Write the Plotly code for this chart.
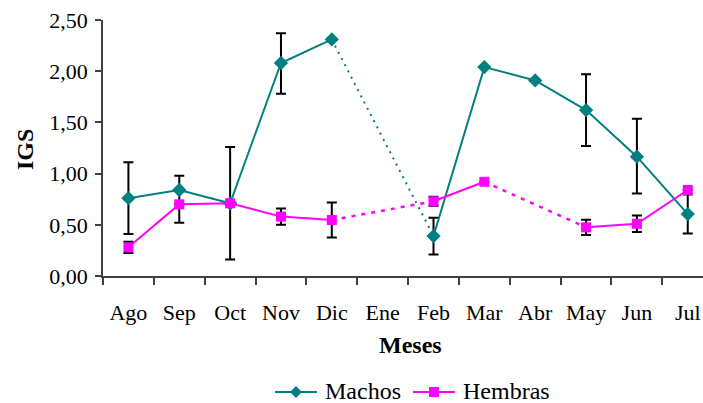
import plotly.graph_objects as go

meses = ["Ago", "Sep", "Oct", "Nov", "Dic", "Ene", "Feb", "Mar", "Abr", "May", "Jun", "Jul"]

machos = [0.76, 0.84, 0.71, 2.08, 2.31, None, 0.39, 2.04, 1.91, 1.62, 1.165, 0.605]
machos_err_up = [0.35, 0.14, 0.55, 0.29, 0, 0, 0.18, 0, 0, 0.35, 0.37, 0.19]
machos_err_down = [0.35, 0.32, 0.55, 0.30, 0, 0, 0.18, 0, 0, 0.35, 0.36, 0.19]

hembras = [0.28, 0.70, 0.71, 0.58, 0.547, None, 0.73, 0.92, None, 0.475, 0.51, 0.84]
hembras_err = [0.055, 0, 0, 0.08, 0.17, 0, 0.045, 0, 0, 0.075, 0.08, 0]

y_ticks = [0, 0.5, 1.0, 1.5, 2.0, 2.5]
series_names = ["Machos", "Hembras"]

TEAL = "#008080"
MAGENTA = "#FF00FF"
FONT = "Liberation Serif"

W, H = 703, 403
ML, MR, MT, MB = 103, 0, 20, 127
PW, PH = W - ML - MR, H - MT - MB


def px_x(p):
    return (p - ML) / PW


def px_y(p):
    return (H - MB - p) / PH


def gap_segments(values):
    segs = []
    prev = None
    gap = False
    for i, v in enumerate(values):
        if v is None:
            gap = True
            continue
        if gap and prev is not None:
            segs.append((prev, i))
        gap = False
        prev = i
    return segs


fig = go.Figure()

for vals, color, dash, width in [(machos, TEAL, "2px,5px", 2), (hembras, MAGENTA, "4px,6px", 2.5)]:
    for a, b in gap_segments(vals):
        fig.add_trace(go.Scatter(
            x=[meses[a], meses[b]], y=[vals[a], vals[b]], mode="lines",
            line=dict(color=color, width=width, dash=dash),
            showlegend=False, hoverinfo="skip"))

fig.add_trace(go.Scatter(
    x=meses, y=machos, name=series_names[0], mode="lines+markers",
    line=dict(color=TEAL, width=2),
    marker=dict(symbol="diamond", size=11, color=TEAL),
    connectgaps=False, showlegend=False,
    error_y=dict(type="data", array=machos_err_up, arrayminus=machos_err_down,
                 symmetric=False, color="black", thickness=2, width=5),
))

fig.add_trace(go.Scatter(
    x=meses, y=hembras, name=series_names[1], mode="lines+markers",
    line=dict(color=MAGENTA, width=2),
    marker=dict(symbol="square", size=10, color=MAGENTA),
    connectgaps=False, showlegend=False,
    error_y=dict(type="data", array=hembras_err, color="black", thickness=2, width=5),
))

# manual legend (key glyphs + serif text)
leg_y = px_y(392)
shapes = []
annotations = []
legend_items = [
    (series_names[0], TEAL, "diamond", 275, 317, 296, 323),
    (series_names[1], MAGENTA, "square", 413, 455, 434, 461),
]
for name, color, sym, lx0, lx1, mx, tx in legend_items:
    shapes.append(dict(type="line", xref="paper", yref="paper",
                       x0=px_x(lx0), x1=px_x(lx1), y0=leg_y, y1=leg_y,
                       line=dict(color=color, width=2)))
    if sym == "diamond":
        shapes.append(dict(type="path", xref="paper", yref="paper",
                           xsizemode="pixel", ysizemode="pixel",
                           xanchor=px_x(mx), yanchor=leg_y,
                           path="M 0 6 L 6 0 L 0 -6 L -6 0 Z",
                           fillcolor=color, line=dict(color=color, width=0)))
    else:
        shapes.append(dict(type="rect", xref="paper", yref="paper",
                           xsizemode="pixel", ysizemode="pixel",
                           xanchor=px_x(mx), yanchor=leg_y,
                           x0=-5, x1=5, y0=-5, y1=5,
                           fillcolor=color, line=dict(color=color, width=0)))
    annotations.append(dict(text=name, x=px_x(tx), y=px_y(391), xref="paper", yref="paper",
                            showarrow=False, xanchor="left", yanchor="middle",
                            font=dict(family=FONT, size=24, color="black")))

annotations += [
    dict(text="<b>Meses</b>", x=px_x(410), y=px_y(345), xref="paper", yref="paper",
         showarrow=False, font=dict(family=FONT, size=24), xanchor="center", yanchor="middle"),
    dict(text="<b>IGS</b>", x=px_x(25), y=px_y(150), xref="paper", yref="paper", textangle=-90,
         showarrow=False, font=dict(family=FONT, size=24), xanchor="center", yanchor="middle"),
]

fig.update_layout(
    width=W, height=H,
    margin=dict(l=ML, r=MR, t=MT, b=MB, autoexpand=False),
    paper_bgcolor="white", plot_bgcolor="white",
    separators=",.",
    font=dict(family=FONT, size=22, color="black"),
    showlegend=False,
    shapes=shapes,
    annotations=annotations,
)

fig.update_xaxes(
    type="category", categoryorder="array", categoryarray=meses,
    range=[-0.5, 11.3], showgrid=False, zeroline=False, automargin=False,
    showline=True, linecolor="#404040", linewidth=1.5,
    ticks="outside", tickson="boundaries", ticklen=7, tickcolor="#404040", tickwidth=1.5,
    tickfont=dict(family=FONT, size=22), ticklabelstandoff=16,
)

fig.update_yaxes(
    range=[0, 2.5], tickvals=y_ticks, tickformat=".2f",
    showgrid=False, zeroline=False, automargin=False,
    showline=True, linecolor="#404040", linewidth=1.5,
    ticks="outside", ticklen=6, tickcolor="#404040", tickwidth=1.5,
    tickfont=dict(family=FONT, size=22), ticklabelstandoff=3,
)

fig.write_html("out.html")
